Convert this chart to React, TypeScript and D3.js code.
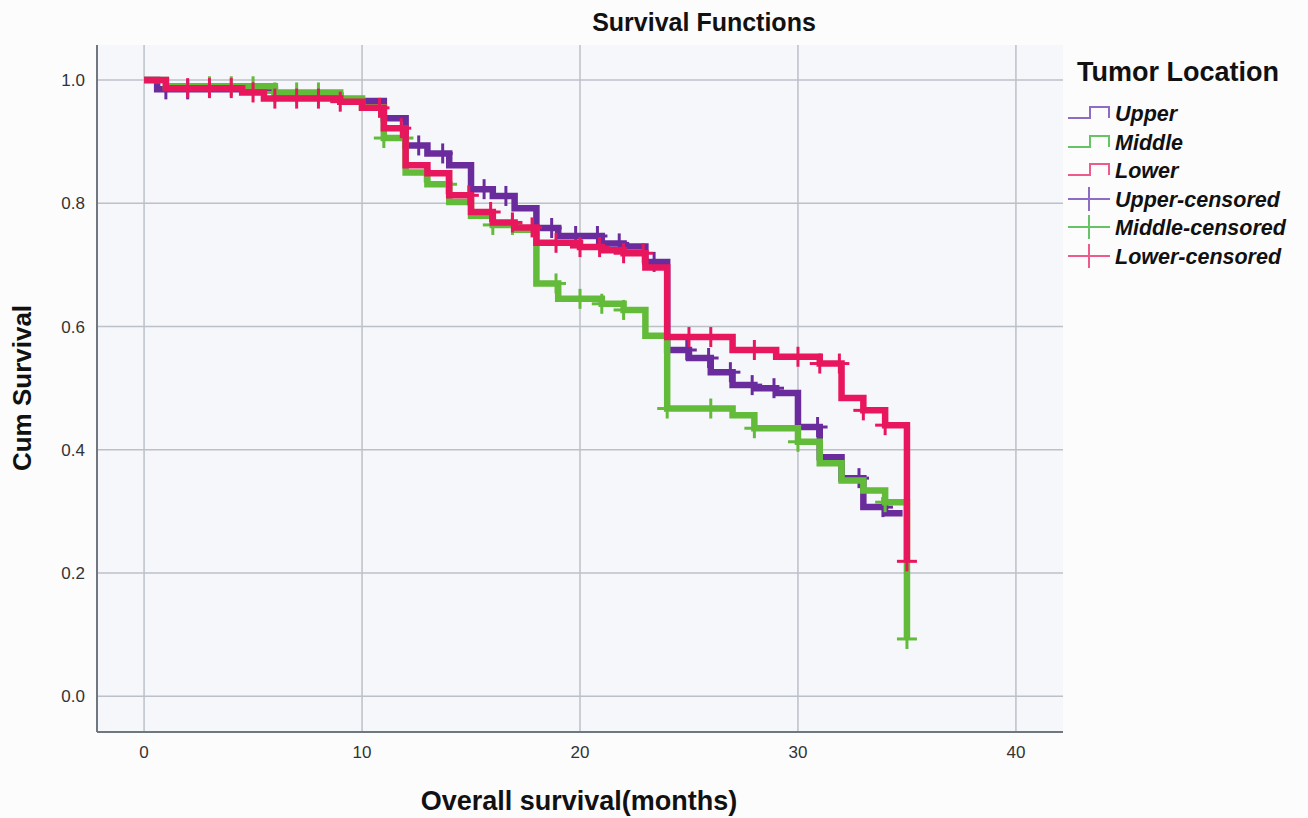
import React from "react";
import * as d3 from "d3";

const xTicks = [0, 10, 20, 30, 40];
const yTicks = [0, 0.2, 0.4, 0.6, 0.8, 1.0];

const upperTimes = [0, 0.6, 6, 9, 11, 12, 13, 14, 15, 16, 17, 18, 19, 21, 22, 23, 24, 25, 26, 27, 28, 29, 30, 31, 32, 33, 34];
const upperVals = [1, 0.985, 0.975, 0.966, 0.938, 0.894, 0.881, 0.862, 0.823, 0.812, 0.792, 0.76, 0.747, 0.735, 0.73, 0.705, 0.562, 0.549, 0.526, 0.505, 0.5, 0.492, 0.437, 0.388, 0.354, 0.307, 0.297];
const upperEnd = 34.8;
const upperCensored = [1, 2, 12.6, 13.7, 15.6, 16.6, 18.7, 19.8, 20.8, 21.8, 23.4, 24.9, 25.9, 26.9, 27.9, 28.9, 30.9, 32.8, 33.9];

const middleTimes = [0, 1, 6, 9, 10, 11, 12, 13, 14, 15, 16, 17, 18, 19, 21, 22, 23, 24, 27, 28, 30, 31, 32, 33, 34, 35];
const middleVals = [1, 0.99, 0.98, 0.97, 0.956, 0.906, 0.85, 0.831, 0.802, 0.78, 0.765, 0.757, 0.67, 0.645, 0.637, 0.627, 0.585, 0.467, 0.456, 0.435, 0.413, 0.378, 0.35, 0.334, 0.315, 0.093];
const middleEnd = 35;
const middleCensored = [3, 4, 5, 6, 7, 8, 11, 11.9, 12.9, 13.9, 16, 16.9, 18.9, 20, 21, 22, 24, 26, 28, 30, 34, 35];

const lowerTimes = [0, 1, 4.5, 5.5, 9, 10, 11, 12, 13, 14, 15, 16, 17, 18, 20, 21, 22, 23, 24, 27, 29, 31, 32, 33, 34, 35];
const lowerVals = [1, 0.987, 0.98, 0.97, 0.965, 0.955, 0.922, 0.862, 0.849, 0.813, 0.786, 0.769, 0.761, 0.736, 0.729, 0.724, 0.719, 0.696, 0.583, 0.562, 0.551, 0.54, 0.484, 0.464, 0.44, 0.219];
const lowerEnd = 35;
const lowerCensored = [2, 3, 4, 5, 6, 7, 8, 9, 10.8, 11.8, 14.9, 15.9, 16.9, 17.8, 18.9, 20, 20.9, 22, 22.9, 25, 26, 28, 30, 31, 31.9, 33, 34, 35];

const seriesNames = ["Upper", "Middle", "Lower"];
const lineColors = ["#6a2c9c", "#63bb3a", "#e8175d"];
const legendColors = ["#8d6cc4", "#66c466", "#ec5a8e"];

const W = 1308;
const H = 818;
const L = 97, R = 1063, T = 45, B = 732;
const FONT = "'Liberation Sans', Arial, sans-serif";

export default function App() {
  const x = d3.scaleLinear().domain([-2.16, 42.16]).range([L, R]);
  const y = d3.scaleLinear().domain([-0.058, 1.057]).range([B, T]);

  const series = [
    { times: upperTimes, vals: upperVals, end: upperEnd, cens: upperCensored },
    { times: middleTimes, vals: middleVals, end: middleEnd, cens: middleCensored },
    { times: lowerTimes, vals: lowerVals, end: lowerEnd, cens: lowerCensored },
  ];

  const line = d3
    .line<[number, number]>()
    .x((d) => x(d[0]))
    .y((d) => y(d[1]))
    .curve(d3.curveStepAfter);

  const valueAt = (s: typeof series[0], t: number) => {
    let v = s.vals[0];
    for (let i = 0; i < s.times.length; i++) {
      if (s.times[i] <= t) v = s.vals[i];
    }
    return v;
  };

  const legendRows = [113, 142, 170, 199, 227, 256];

  return (
    <svg width={W} height={H} style={{ position: "absolute", left: 0, top: 0, background: "#fdfcfd" }} fontFamily={FONT}>
      <rect x={0} y={0} width={W} height={H} fill="#fdfcfd" />
      <rect x={L} y={T} width={R - L} height={B - T} fill="#f6f7fb" />
      {/* grid */}
      {yTicks.map((v) => (
        <line key={"gy" + v} x1={L} x2={R} y1={y(v)} y2={y(v)} stroke="#bcc0c8" strokeWidth={1.5} />
      ))}
      {xTicks.map((v) => (
        <line key={"gx" + v} x1={x(v)} x2={x(v)} y1={T} y2={B} stroke="#bcc0c8" strokeWidth={1.5} />
      ))}
      {/* axes */}
      <line x1={L} x2={L} y1={T} y2={B} stroke="#6f7880" strokeWidth={2} />
      <line x1={L} x2={R} y1={B} y2={B} stroke="#6f7880" strokeWidth={2} />
      {yTicks.map((v) => (
        <text key={"ty" + v} x={85} y={y(v)} dy="0.35em" textAnchor="end" fontSize={17} fill="#333">
          {v.toFixed(1)}
        </text>
      ))}
      {xTicks.map((v) => (
        <text key={"tx" + v} x={x(v)} y={758} textAnchor="middle" fontSize={17} fill="#333">
          {v}
        </text>
      ))}
      {/* curves */}
      {series.map((s, i) => {
        const pts: [number, number][] = s.times.map((t, j) => [t, s.vals[j]] as [number, number]);
        pts.push([s.end, s.vals[s.vals.length - 1]]);
        return (
          <g key={"s" + i}>
            <path d={line(pts) || ""} fill="none" stroke={lineColors[i]} strokeWidth={6.5} strokeLinejoin="miter" strokeLinecap="butt" />
            {s.cens.map((t, k) => {
              const cx = x(t);
              const cy = y(valueAt(s, t));
              return (
                <g key={k} stroke={lineColors[i]} strokeWidth={3}>
                  <line x1={cx - 10} x2={cx + 10} y1={cy} y2={cy} />
                  <line x1={cx} x2={cx} y1={cy - 10} y2={cy + 10} />
                </g>
              );
            })}
          </g>
        );
      })}
      {/* titles */}
      <text x={704} y={31} textAnchor="middle" fontSize={25} fontWeight="bold" fill="#111">
        Survival Functions
      </text>
      <text x={579} y={810} textAnchor="middle" fontSize={27} fontWeight="bold" fill="#111">
        Overall survival(months)
      </text>
      <text transform={`translate(31,388) rotate(-90)`} textAnchor="middle" fontSize={26} fontWeight="bold" fill="#111">
        Cum Survival
      </text>
      {/* legend */}
      <text x={1077} y={81} fontSize={27} fontWeight="bold" fill="#111">
        Tumor Location
      </text>
      {seriesNames.map((n, i) => {
        const cy = legendRows[i];
        return (
          <g key={"l" + i}>
            <path d={`M1068,${cy + 5} H1090 V${cy - 6} H1109 V${cy + 5}`} fill="none" stroke={legendColors[i]} strokeWidth={2} />
            <text x={1115} y={cy} dy="0.35em" fontSize={21.5} fontWeight="bold" fontStyle="italic" fill="#111">
              {n}
            </text>
          </g>
        );
      })}
      {seriesNames.map((n, i) => {
        const cy = legendRows[i + 3];
        return (
          <g key={"lc" + i}>
            <line x1={1068} x2={1110} y1={cy} y2={cy} stroke={legendColors[i]} strokeWidth={2} />
            <line x1={1089} x2={1089} y1={cy - 12} y2={cy + 12} stroke={legendColors[i]} strokeWidth={2} />
            <text x={1115} y={cy} dy="0.35em" fontSize={21.5} fontWeight="bold" fontStyle="italic" fill="#111">
              {n + "-censored"}
            </text>
          </g>
        );
      })}
    </svg>
  );
}
